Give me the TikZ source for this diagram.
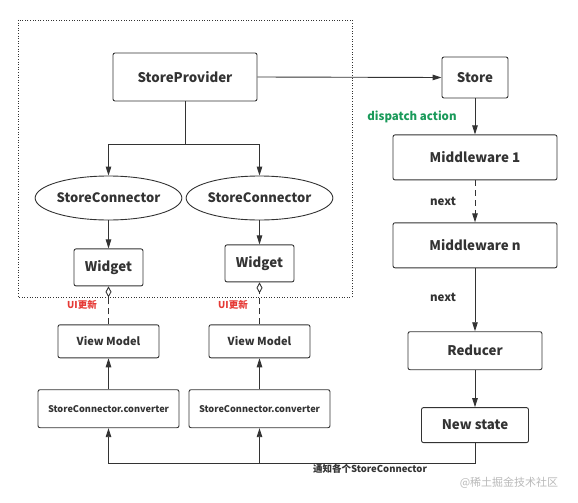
\documentclass[tikz,border=0pt]{standalone}
\usepackage{fontspec}
\setmainfont{Noto Sans CJK SC}
\usepackage{tikz}
\usetikzlibrary{arrows.meta,positioning,shapes.geometric}
\definecolor{linegray}{HTML}{333333}
\definecolor{actgreen}{HTML}{1A9A5A}
\definecolor{uired}{HTML}{E53935}

\begin{document}
\begin{tikzpicture}[
      x=1pt,y=-1pt,
      color=linegray,line width=0.9pt,
      box/.style={draw,rounded corners=2pt,inner sep=0pt,align=center,font=\bfseries\fontsize{13.3}{15}\selectfont},
      oval/.style={draw,ellipse,inner sep=0pt,minimum width=127pt,minimum height=44pt,font=\bfseries\fontsize{13}{15}\selectfont},
      vmbox/.style={box,minimum width=101pt,minimum height=33pt,font=\bfseries\fontsize{11}{13}\selectfont},
      cvbox/.style={box,minimum width=141pt,minimum height=38pt,font=\bfseries\fontsize{9.2}{11}\selectfont},
      mwbox/.style={box,minimum width=164pt,minimum height=45pt},
      lbl/.style={font=\bfseries\fontsize{11.5}{13}\selectfont},
      longdash/.style={dash pattern=on 6pt off 4pt},
      >={Triangle[length=9pt,width=5.5pt]}
    ]
      \useasboundingbox (0,0) rectangle (578,503);

      % Provider side
      \draw[dash pattern=on 1pt off 1.6pt,line width=0.8pt] (18,20) rectangle (352,297);
      \node[box,minimum width=144pt,minimum height=48pt] (provider) at (185,77) {StoreProvider};
      \node[oval] (conn1) at (108.5,198) {StoreConnector};
      \node[oval] (conn2) at (259.5,198) {StoreConnector};
      \node[box,minimum width=69pt,minimum height=37pt,below=28pt of conn1] (widget1) {Widget};
      \node[box,minimum width=69pt,minimum height=37pt,below=24pt of conn2] (widget2) {Widget};
      \node[vmbox,below=38pt of widget1] (vm1) {View Model};
      \node[vmbox,below=42pt of widget2] (vm2) {View Model};
      \node[cvbox,below=31pt of vm1] (conv1) {StoreConnector.converter};
      \node[cvbox,below=31pt of vm2] (conv2) {StoreConnector.converter};

      % Store side
      \node[box,minimum width=66pt,minimum height=41pt] (store) at (475,77.5) {Store};
      \node[mwbox,below=36pt of store] (mw1) {Middleware 1};
      \node[mwbox,below=42pt of mw1] (mwn) {Middleware n};
      \node[box,minimum width=134pt,minimum height=38pt,below=63pt of mwn] (reducer) {Reducer};
      \node[box,minimum width=107pt,minimum height=35pt,below=37pt of reducer] (newstate) {New state};

      % Labels
      \node[lbl,text=actgreen] (dispatch) at (412,117) {dispatch action};
      \node[lbl] (next1) at (443,201) {next};
      \node[lbl] (next2) at (443,297) {next};
      \node[lbl,text=uired,font=\bfseries\fontsize{9.5}{11}\selectfont] (update1) at (82,305) {UI更新};
      \node[lbl,text=uired,font=\bfseries\fontsize{9.5}{11}\selectfont] (update2) at (233,305) {UI更新};
      \node[lbl,font=\bfseries\fontsize{9.5}{11}\selectfont] (notify) at (370,469) {通知各个StoreConnector};
      \node[text=gray!55,font=\fontsize{11}{13}\selectfont] (mark) at (509,483) {@稀土掘金技术社区};

      % Arrows
      \draw[->] (provider.east) -- (store.west);
      \draw[->] (provider.south) -- ++(0,43) -| (conn1.north);
      \draw[->] (provider.south) -- ++(0,43) -| (conn2.north);
      \draw[->] (conn1) -- (widget1);
      \draw[->] (conn2) -- (widget2);
      \draw[longdash,-{Diamond[open,length=11pt,width=6pt]}] (vm1) -- (widget1);
      \draw[longdash,-{Diamond[open,length=11pt,width=6pt]}] (vm2) -- (widget2);
      \draw[->] (conv1) -- (vm1);
      \draw[->] (conv2) -- (vm2);
      \draw[->] (store) -- (mw1);
      \draw[->,longdash] (mw1) -- (mwn);
      \draw[->] (mwn) -- (reducer);
      \draw[->] (reducer) -- (newstate);

      % Feedback to connectors
      \draw[->] (newstate.south) -- ++(0,20) -| (conv1.south);
      \draw[->] (newstate.south) -- ++(0,20) -| (conv2.south);
    \end{tikzpicture}
\end{document}
